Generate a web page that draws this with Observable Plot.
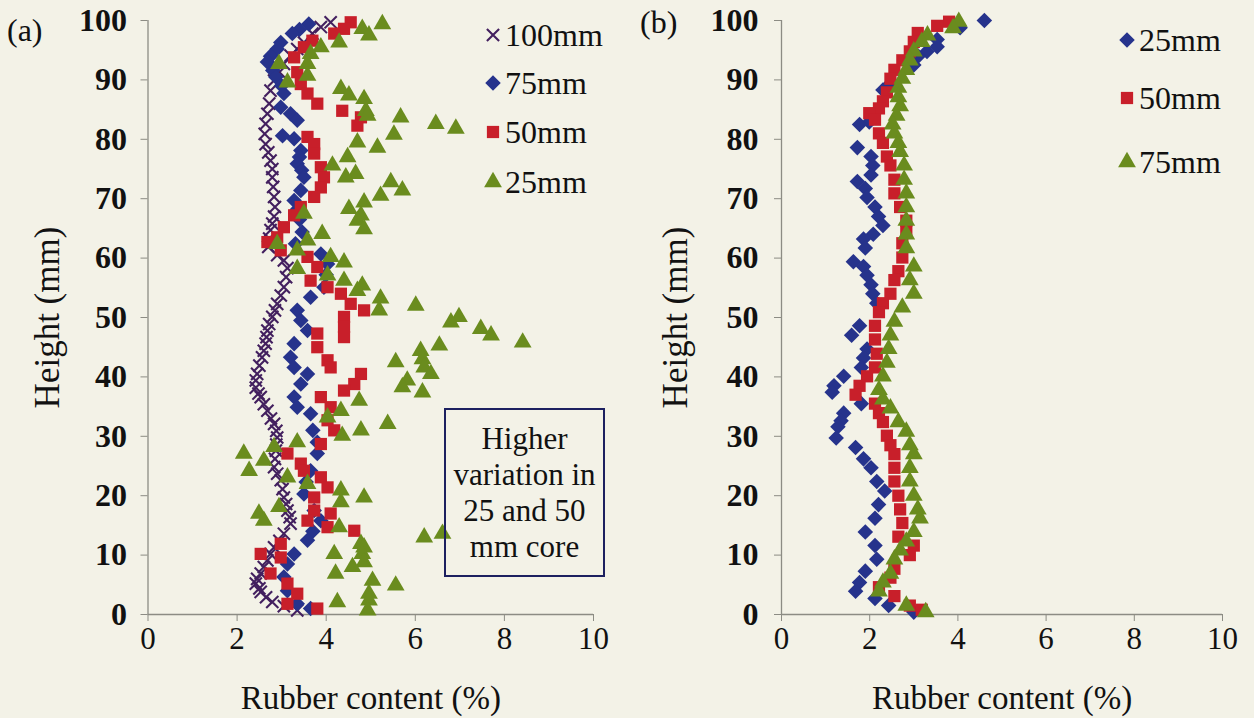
<!DOCTYPE html>
<html><head><meta charset="utf-8">
<script src="https://cdn.jsdelivr.net/npm/d3@7"></script>
<script src="https://cdn.jsdelivr.net/npm/@observablehq/plot@0.6"></script>
<style>
html,body{margin:0;padding:0;background:#f3f2e7;}
#root{position:relative;width:1254px;height:718px;overflow:hidden;font-family:"Liberation Serif","Times New Roman",serif;color:#111;}
.panel{position:absolute;top:0;}
.lab{position:absolute;font-size:32px;line-height:1;white-space:nowrap;}
.leg{position:absolute;display:flex;align-items:center;font-size:32px;line-height:1;white-space:nowrap;}
.leg svg{margin-right:1px;}
.box{position:absolute;border:2px solid #1c2060;box-sizing:border-box;text-align:center;font-size:31px;line-height:36px;display:flex;flex-direction:column;justify-content:center;}
</style></head><body><div id="root"></div>
<script>
const FONT = "'Liberation Serif','Times New Roman',serif";
// ---- axis ticks ----
const xTicks = [0, 2, 4, 6, 8, 10];
const yTicks = [0, 10, 20, 30, 40, 50, 60, 70, 80, 90, 100];
const xLabel = "Rubber content (%)";
const yLabel = "Height (mm)";

// ---- panel (a): [rubber content %, height mm] ----
const a_100mm = [[4.10,99.7],[3.88,98.9],[3.69,97.8],[3.50,96.3],[3.35,95.2],[3.20,94.1],[3.05,92.7],[2.95,91.3],[2.83,89.9],[2.75,88.2],[2.72,86.0],[2.68,84.3],[2.64,82.6],[2.62,80.9],[2.64,79.2],[2.70,77.8],[2.75,76.4],[2.79,75.0],[2.79,73.6],[2.81,72.0],[2.83,70.3],[2.85,68.6],[2.83,67.0],[2.79,65.8],[2.75,64.7],[2.72,63.3],[2.70,61.9],[2.90,60.5],[3.05,59.6],[3.13,58.3],[3.10,56.8],[3.05,55.1],[2.98,53.7],[2.90,52.3],[2.85,51.2],[2.79,50.1],[2.72,48.9],[2.68,47.8],[2.66,46.7],[2.64,45.6],[2.60,44.4],[2.56,43.3],[2.50,41.9],[2.45,40.5],[2.42,39.4],[2.42,38.2],[2.48,37.2],[2.53,36.6],[2.60,35.4],[2.68,34.3],[2.76,33.0],[2.83,32.1],[2.88,30.9],[2.90,29.8],[2.88,28.6],[2.87,27.6],[2.85,26.2],[2.83,24.8],[2.90,23.7],[2.98,22.6],[3.02,21.1],[3.05,19.7],[3.10,18.6],[3.13,17.5],[3.18,16.4],[3.20,15.3],[3.05,13.6],[2.95,12.4],[2.83,11.3],[2.75,10.2],[2.68,9.1],[2.60,8.0],[2.53,6.9],[2.45,6.0],[2.42,5.2],[2.50,4.4],[2.53,3.8],[2.65,2.9],[2.79,2.1],[3.05,1.4],[3.35,0.7]];
const a_75mm = [[3.61,99.4],[3.40,98.5],[3.24,97.8],[2.98,96.3],[2.90,95.2],[2.75,94.0],[2.68,93.0],[2.80,91.6],[2.87,90.5],[3.00,89.0],[3.05,87.7],[2.98,85.4],[3.20,84.3],[3.35,83.2],[3.02,80.6],[3.28,80.1],[3.43,78.1],[3.40,77.0],[3.35,75.9],[3.45,74.8],[3.50,73.6],[3.43,71.4],[3.28,69.7],[3.35,68.2],[3.40,66.5],[3.46,64.4],[3.31,62.4],[3.88,60.7],[4.03,59.0],[4.00,57.2],[3.95,55.1],[3.65,53.4],[3.35,51.2],[3.43,49.5],[3.58,47.8],[3.28,45.6],[3.20,43.3],[3.28,41.6],[3.58,40.5],[3.43,38.8],[3.28,36.6],[3.35,34.9],[3.65,33.8],[3.70,31.0],[3.80,29.0],[3.80,27.1],[3.65,24.2],[3.55,22.3],[3.50,20.3],[3.73,17.5],[3.88,15.8],[3.70,14.0],[3.58,12.5],[3.28,10.2],[3.13,8.5],[3.05,6.3],[3.13,4.0],[3.35,1.8],[3.65,1.0]];
const a_50mm = [[4.55,99.7],[4.40,98.6],[4.18,97.8],[3.69,96.6],[3.50,95.5],[3.28,93.8],[3.35,91.3],[3.43,89.3],[3.58,87.7],[3.80,86.0],[4.36,84.8],[4.78,83.7],[4.70,82.3],[3.58,80.4],[3.73,79.2],[3.73,77.6],[3.88,75.3],[3.95,73.6],[3.88,71.9],[3.73,70.3],[3.43,68.6],[3.28,67.2],[3.05,65.2],[2.90,63.5],[2.68,62.7],[2.98,61.3],[3.58,60.2],[3.80,58.5],[3.65,56.2],[4.03,55.1],[4.33,54.0],[4.55,52.3],[4.85,51.2],[4.40,50.1],[4.40,48.4],[4.40,46.7],[3.80,47.3],[3.80,45.0],[4.03,42.8],[4.10,41.6],[4.78,40.5],[4.63,38.8],[4.40,37.7],[3.88,36.6],[4.10,34.9],[4.03,32.7],[4.18,31.0],[3.88,28.7],[3.13,27.1],[3.43,25.4],[3.50,24.2],[3.88,23.1],[4.03,21.4],[3.73,19.7],[3.73,17.5],[4.10,17.0],[3.58,15.8],[4.03,14.7],[4.63,14.1],[2.98,11.9],[2.53,10.2],[2.98,9.6],[2.75,6.9],[3.13,5.2],[3.35,3.5],[3.13,1.8],[3.80,1.0]];
const a_25mm = [[5.26,99.4],[4.81,98.6],[4.96,97.5],[4.29,96.3],[3.88,95.5],[3.65,94.4],[3.58,92.7],[2.94,92.7],[3.58,90.7],[3.13,89.6],[4.33,88.5],[4.51,87.4],[4.85,86.8],[4.89,84.8],[4.93,84.0],[5.67,83.7],[6.46,82.6],[6.91,81.8],[5.52,80.8],[4.70,79.5],[5.15,78.6],[4.48,77.0],[4.14,75.6],[4.66,74.2],[4.44,73.6],[5.45,72.8],[5.71,71.4],[5.22,70.5],[4.85,69.4],[4.51,68.3],[3.50,67.5],[4.78,67.2],[4.70,66.3],[4.85,64.9],[3.91,64.1],[3.58,63.0],[2.90,62.4],[3.35,61.3],[4.10,60.2],[4.40,59.3],[3.35,58.2],[4.03,57.1],[4.40,56.2],[4.81,55.4],[4.70,54.5],[5.22,53.2],[6.01,52.0],[5.19,51.2],[6.98,50.1],[6.80,49.2],[7.47,48.1],[7.70,47.0],[8.41,45.8],[6.54,45.3],[6.12,44.4],[6.16,43.0],[5.56,42.5],[6.20,41.6],[6.35,40.5],[5.82,39.4],[5.71,38.3],[6.16,37.4],[4.74,36.0],[4.33,34.3],[4.03,33.2],[5.38,32.1],[4.78,31.0],[4.36,30.1],[3.35,29.0],[2.83,28.2],[2.15,27.1],[2.60,25.9],[2.27,24.2],[3.13,23.1],[3.58,22.0],[4.33,20.9],[4.85,19.7],[4.33,18.9],[2.94,18.1],[2.49,17.0],[2.60,15.8],[4.29,14.7],[6.61,13.6],[6.20,13.0],[4.78,11.9],[4.85,11.3],[4.81,10.2],[4.18,10.2],[4.85,8.8],[4.59,8.0],[4.21,6.9],[5.04,5.7],[5.56,4.9],[4.96,3.5],[4.96,2.4],[4.25,2.1],[4.93,0.7]];

// ---- panel (b) ----
const b_25mm = [[4.60,100.0],[4.05,98.8],[3.53,96.8],[3.53,95.6],[3.30,94.8],[3.10,94.0],[3.00,92.5],[2.47,89.4],[2.30,88.3],[1.99,82.9],[1.77,82.5],[1.72,78.6],[2.03,77.1],[2.07,75.6],[2.03,74.0],[1.72,72.9],[1.90,71.7],[1.94,70.2],[2.12,68.6],[2.20,67.0],[2.30,65.5],[2.08,64.0],[1.86,63.2],[1.90,61.7],[1.63,59.4],[1.86,58.6],[1.94,57.1],[2.03,55.5],[2.07,54.0],[2.16,52.4],[1.77,48.6],[1.59,47.0],[1.94,44.7],[1.86,43.2],[1.81,41.6],[1.41,40.1],[1.19,38.5],[1.15,37.4],[1.81,35.5],[1.41,33.9],[1.35,32.6],[1.28,31.6],[1.24,29.7],[1.68,28.1],[1.86,26.2],[2.03,24.7],[2.16,22.4],[2.34,20.8],[2.20,18.5],[2.12,16.2],[1.90,13.9],[2.12,11.6],[2.16,9.3],[1.90,7.3],[1.77,5.4],[1.68,3.9],[2.12,2.7],[2.43,1.5],[3.00,0.4]];
const b_50mm = [[3.80,99.8],[3.53,99.1],[3.09,97.9],[3.00,96.4],[2.91,94.8],[2.74,93.3],[2.56,91.7],[2.47,90.2],[2.39,87.9],[2.30,86.4],[2.21,85.2],[1.99,84.4],[2.12,83.3],[2.21,81.0],[2.30,79.4],[2.39,77.1],[2.47,75.6],[2.56,73.2],[2.56,70.9],[2.69,68.6],[2.83,66.3],[2.83,64.8],[2.74,62.5],[2.74,60.1],[2.65,57.8],[2.56,56.3],[2.47,54.0],[2.30,52.4],[2.21,50.9],[2.12,48.6],[2.12,46.3],[2.16,43.9],[2.12,41.6],[1.94,40.1],[1.77,38.5],[1.68,37.0],[2.12,35.5],[2.21,33.9],[2.30,32.4],[2.39,30.1],[2.47,28.5],[2.56,27.0],[2.56,24.7],[2.56,22.4],[2.65,20.0],[2.69,17.7],[2.74,15.4],[2.65,13.1],[3.00,11.6],[2.91,10.0],[2.56,7.7],[2.47,6.2],[2.21,4.6],[2.56,3.1],[2.91,1.5],[3.18,0.8]];
const b_75mm = [[4.02,99.8],[3.89,98.7],[3.31,97.5],[3.18,96.4],[3.00,94.8],[2.91,93.3],[2.83,91.7],[2.74,90.2],[2.65,88.7],[2.65,87.1],[2.69,85.6],[2.61,84.0],[2.52,82.5],[2.56,81.0],[2.65,79.4],[2.69,77.9],[2.78,75.6],[2.78,73.2],[2.83,70.9],[2.83,68.6],[2.83,66.3],[2.83,64.0],[2.83,61.7],[3.00,58.6],[2.91,56.3],[3.00,54.0],[2.74,51.7],[2.56,49.3],[2.47,47.0],[2.43,44.7],[2.39,42.4],[2.30,40.1],[2.21,37.8],[2.30,36.2],[2.47,34.7],[2.65,32.4],[2.83,30.8],[2.91,28.5],[3.00,27.0],[2.91,24.7],[2.91,22.4],[3.00,20.0],[3.09,17.7],[3.14,16.2],[3.00,13.9],[2.83,12.3],[2.69,10.8],[2.56,9.3],[2.47,6.9],[2.30,5.4],[2.21,3.9],[2.83,1.5],[3.27,0.4]];

// ---- styles ----
const C = {purple:"#43205f", blue:"#26338c", red:"#c81f2a", green:"#6a8c1e", axis:"#8c8c84"};
const S = {
  times:{symbol:"times", stroke:C.purple, strokeWidth:2.1, r:5.6},
  diamond:{symbol:"diamond2", fill:C.blue, r:7},
  square:{symbol:"square", fill:C.red, r:6.9},
  triangle:{symbol:"triangle", fill:C.green, r:6.6}
};
const P = {x: d => d[0], y: d => d[1]};

function panel(opts) {
  return Plot.plot({
    width: opts.width, height: 718,
    marginLeft: opts.ml, marginRight: opts.mr, marginTop: 20, marginBottom: 104,
    style: {background: "transparent", fontFamily: FONT, fontSize: "30px", color: "#111", overflow: "visible"},
    x: {domain: [0, 10]},
    y: {domain: [0, 100]},
    marks: [
      Plot.ruleX([0], {stroke: C.axis, strokeWidth: 1.3}),
      Plot.ruleY([0], {stroke: C.axis, strokeWidth: 1.3}),
      Plot.axisX({ticks: xTicks, tickSize: 7, tickPadding: 5, label: null, stroke: C.axis, fill: "#111", fontSize: 31}),
      Plot.axisY({ticks: yTicks, tickSize: 7, tickPadding: opts.ypad, label: null, stroke: C.axis, fill: "#111", fontSize: 32, fontWeight: "bold"}),
      ...opts.series.map(([data, st]) => Plot.dot(data, {...P, ...st})),
      Plot.text([xLabel], {text: d => d, frameAnchor: "bottom", textAnchor: "middle", dy: 94, fontSize: 33, fill: "#111"}),
      Plot.text([yLabel], {text: d => d, frameAnchor: "left", textAnchor: "middle", dx: opts.ydx, rotate: -90, fontSize: 35, fill: "#111"})
    ]
  });
}

const root = document.getElementById("root");
function place(node, left) { node.classList.add("panel"); node.style.left = left + "px"; root.appendChild(node); }

place(panel({width: 640, ml: 147.5, mr: 47, ypad: 14, ydx: -100,
  series: [[a_100mm, S.times], [a_75mm, S.diamond], [a_50mm, S.square], [a_25mm, S.triangle]]}), 0);
place(panel({width: 614, ml: 141, mr: 32, ypad: 16, ydx: -106,
  series: [[b_25mm, S.diamond], [b_50mm, S.square], [b_75mm, S.triangle]]}), 640);

// ---- labels, legends, annotation ----
function addDiv(cls, html, css) { const d = document.createElement("div"); d.className = cls; d.innerHTML = html; Object.assign(d.style, css); root.appendChild(d); return d; }
addDiv("lab", "(a)", {left: "7px", top: "14px"});
addDiv("lab", "(b)", {left: "640px", top: "6px"});

const symMap = {times: d3.symbolTimes, diamond: d3.symbolDiamond2, square: d3.symbolSquare, triangle: d3.symbolTriangle};
function icon(kind) {
  const st = S[kind];
  const size = Math.PI * st.r * st.r;
  const p = d3.symbol(symMap[kind], size)();
  const paint = kind === "times" ? `fill="none" stroke="${st.stroke}" stroke-width="${st.strokeWidth}"` : `fill="${st.fill}"`;
  return `<svg width="22" height="22" viewBox="-11 -11 22 22"><path d="${p}" ${paint}/></svg>`;
}
const legendA = [["times", "100mm"], ["diamond", "75mm"], ["square", "50mm"], ["triangle", "25mm"]];
const legendAy = [35, 83, 132, 182];
legendA.forEach(([k, t], i) => addDiv("leg", icon(k) + `<span>${t}</span>`, {left: "482px", top: (legendAy[i] - 16) + "px", height: "32px"}));
const legendB = [["diamond", "25mm"], ["square", "50mm"], ["triangle", "75mm"]];
const legendBy = [40, 98, 162];
legendB.forEach(([k, t], i) => addDiv("leg", icon(k) + `<span>${t}</span>`, {left: "1116px", top: (legendBy[i] - 16) + "px", height: "32px"}));

addDiv("box", "<div>Higher</div><div>variation in</div><div>25 and 50</div><div>mm core</div>",
  {left: "444px", top: "408px", width: "161px", height: "169px"});
</script></body></html>
